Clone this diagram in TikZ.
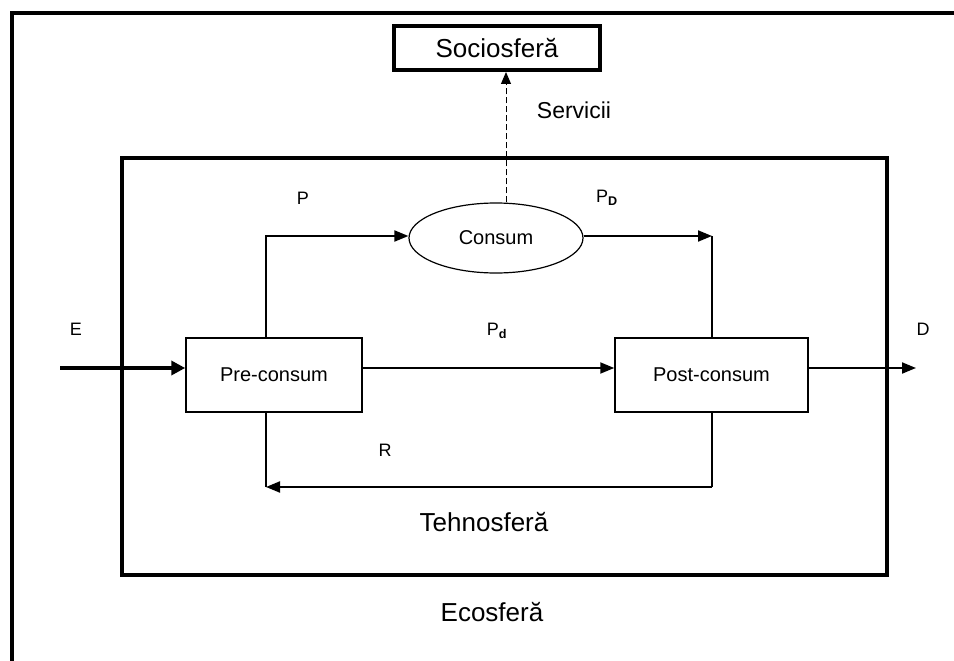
\documentclass[tikz,border=0pt]{standalone}
\usepackage{fontspec}
\setmainfont{Liberation Sans}
\usepackage{tikz}
\usetikzlibrary{arrows.meta,shapes.geometric}

\begin{document}
\begin{tikzpicture}[x=1pt,y=-1pt,
    box/.style={draw,line width=1.5pt,minimum height=74pt,font=\fontsize{20}{23}\selectfont},
    flow/.style={line width=2pt,-{Triangle[length=14pt,width=11pt]}},
    lbl/.style={font=\fontsize{18}{21}\selectfont},
    big/.style={font=\fontsize{26}{30}\selectfont}]
    % Page size and clipping
    \path[use as bounding box] (0,0) rectangle (954,661);
    \clip (0,0) rectangle (954,661);

    % Ecosphere frame (only left and top edges are visible)
    \draw[line width=4pt] (12,700) -- (12,13) -- (1000,13);
    \node[big] (eco) at (492,612) {Ecosferă};

    % Technosphere frame
    \draw[line width=4pt] (122,158) rectangle (887,575);
    \node[big] (tehno) at (484,522) {Tehnosferă};

    % Sociosphere box
    \node[draw,line width=4pt,minimum width=206pt,minimum height=44pt,big] (socio) at (497,48) {Sociosferă};

    % Main stages
    \node[box,minimum width=176pt] (pre) at (274,375) {Pre-consum};
    \node[box,minimum width=193pt] (post) at (711.5,375) {Post-consum};
    \node[draw,line width=1.2pt,ellipse,minimum width=174pt,minimum height=70pt,
          font=\fontsize{20}{23}\selectfont] (consum) at (496,238) {Consum};

    % Corner points of the loops
    \coordinate (ptop) at (266,236);
    \coordinate (pdtop) at (712,236);
    \coordinate (rright) at (712,487);
    \coordinate (rleft) at (266,487);
    \coordinate (ein) at (60,368);
    \coordinate (dout) at (916,368);

    % Flows
    \draw[flow] (pre.north -| ptop) -- (ptop) -- (ptop -| consum.west);
    \draw[flow] (pdtop -| consum.east) -- (pdtop);
    \draw[line width=2pt] (pdtop) -- (post.north -| pdtop);
    \draw[flow] (pre.east |- ein) -- (post.west |- ein);
    \draw[line width=2pt] (post.south -| rright) -- (rright);
    \draw[flow] (rright) -- (rleft);
    \draw[line width=2pt] (rleft) -- (pre.south -| rleft);
    \draw[line width=4pt,-{Triangle[length=14pt,width=14pt]}] (ein) -- (ein -| pre.west);
    \draw[flow] (post.east |- dout) -- (dout);
    \draw[dash pattern=on 6pt off 3pt,line width=1pt,-{Triangle[length=12pt,width=10pt]}]
        ([xshift=10pt]consum.north) -- ([xshift=10pt]consum.north |- socio.south);

    % Labels
    \node[font=\fontsize{23}{27}\selectfont] (serv) at (574,110) {Servicii};
    \node[lbl] (lp) at (303,198) {P};
    \node[lbl] (lpd) at (607,198) {P\textsubscript{\textbf{D}}};
    \node[lbl] (lpm) at (497,331) {P\textsubscript{\textbf{d}}};
    \node[lbl] (lr) at (385,450) {R};
    \node[lbl] (le) at (76,329) {E};
    \node[lbl] (ld) at (923,329) {D};
\end{tikzpicture}
\end{document}
